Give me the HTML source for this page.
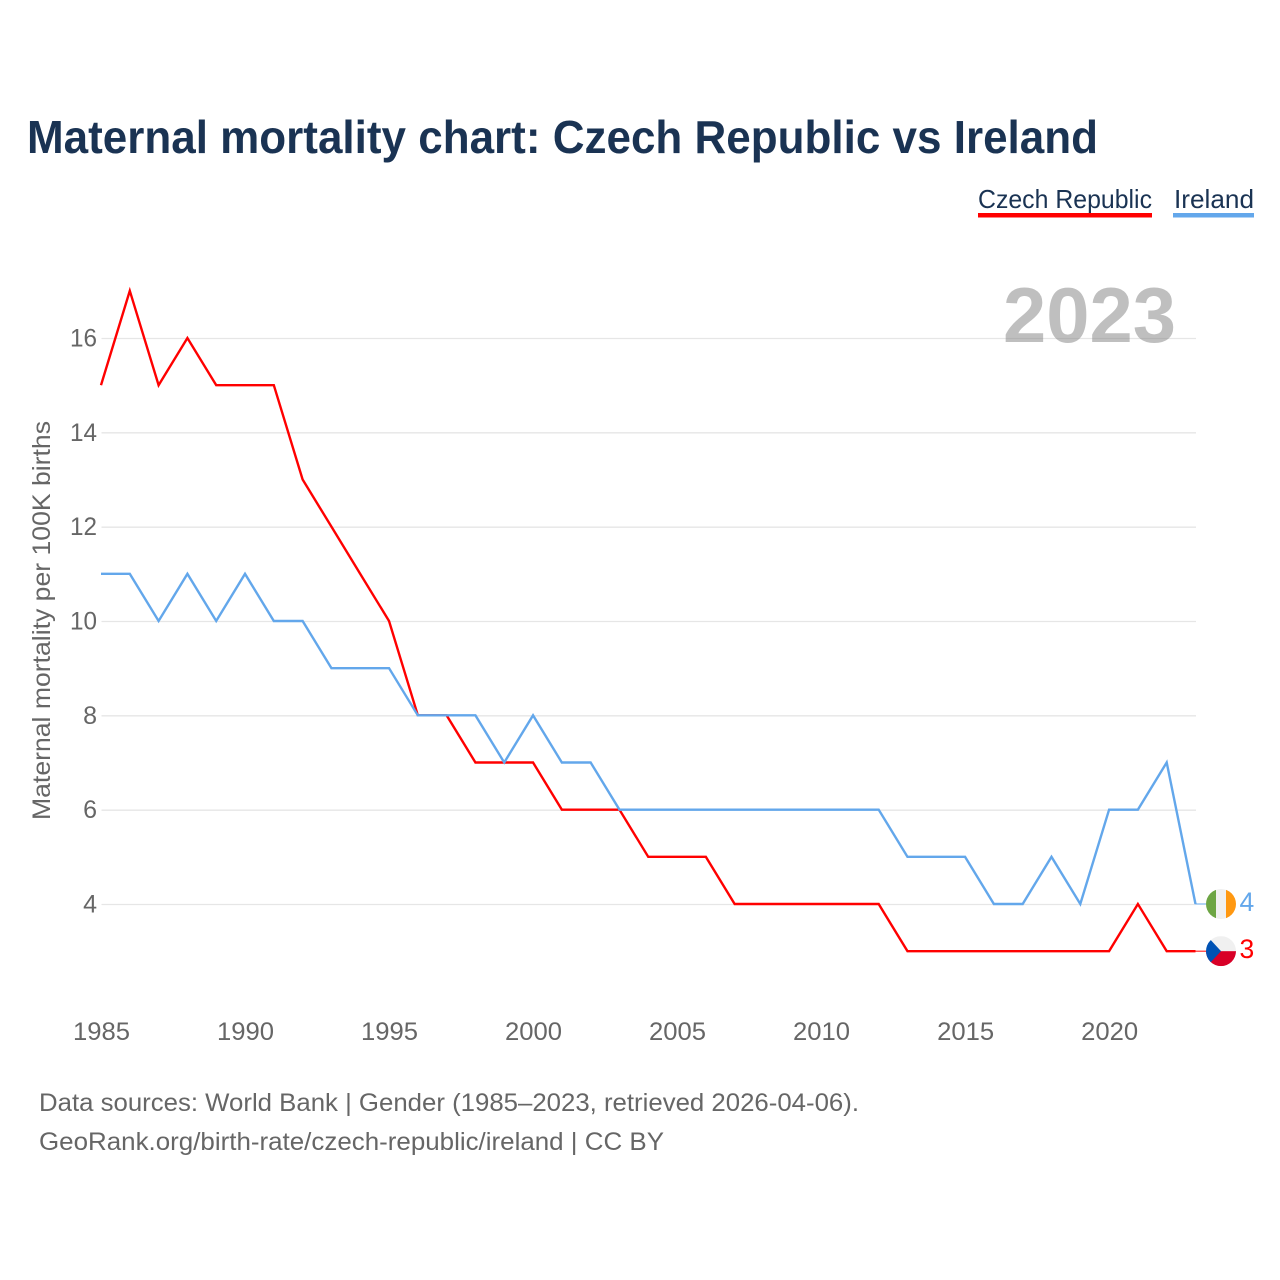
<!DOCTYPE html>
<html lang="en">
<head>
<meta charset="utf-8">
<title>Maternal mortality chart: Czech Republic vs Ireland</title>
<style>
html,body{margin:0;padding:0;background:#fff;width:1280px;height:1280px;overflow:hidden}
svg{display:block}
text{font-family:"Liberation Sans",sans-serif}
</style>
</head>
<body>
<svg id="chart" xmlns="http://www.w3.org/2000/svg" width="1280" height="1280" viewBox="0 0 1280 1280">
  <rect width="1280" height="1280" fill="#ffffff"/>
  <text x="27" y="153" font-size="46" font-weight="700" fill="#1a3353" textLength="1071" lengthAdjust="spacingAndGlyphs">Maternal mortality chart: Czech Republic vs Ireland</text>
  <g id="grid"></g>
  <g id="yticks"></g>
  <g id="xticks"></g>
  <text transform="translate(50,620.5) rotate(-90)" text-anchor="middle" font-size="25" fill="#666666" textLength="399" lengthAdjust="spacingAndGlyphs">Maternal mortality per 100K births</text>
  <text x="1003" y="342" font-size="78" font-weight="700" fill="#808080" fill-opacity="0.5" textLength="173" lengthAdjust="spacingAndGlyphs">2023</text>
  <g id="series"></g>

  <g>
    <text x="978" y="208" font-size="26" fill="#1a3353" textLength="174" lengthAdjust="spacingAndGlyphs">Czech Republic</text>
    <rect x="978" y="213" width="174" height="4.5" fill="#ff0000"/>
  </g>
  <g>
    <text x="1174" y="208" font-size="26" fill="#1a3353" textLength="80" lengthAdjust="spacingAndGlyphs">Ireland</text>
    <rect x="1173" y="213" width="81" height="4.5" fill="#63a7eb"/>
  </g>

  <defs>
    <clipPath id="flag-ie-clip"><circle id="clip-ie" cx="1221" cy="904" r="15"/></clipPath>
    <clipPath id="flag-cz-clip"><circle id="clip-cz" cx="1221" cy="951" r="15"/></clipPath>
  </defs>
  <g id="flag-ie" clip-path="url(#flag-ie-clip)"></g>
  <g id="flag-cz" clip-path="url(#flag-cz-clip)"></g>
  <g id="endvals"></g>

  <text x="39" y="1111" font-size="25" fill="#666666" textLength="820" lengthAdjust="spacingAndGlyphs">Data sources: World Bank | Gender (1985–2023, retrieved 2026-04-06).</text>
  <text x="39" y="1150" font-size="25" fill="#666666" textLength="625" lengthAdjust="spacingAndGlyphs">GeoRank.org/birth-rate/czech-republic/ireland | CC BY</text>
</svg>
<script>
const years = [1985,1986,1987,1988,1989,1990,1991,1992,1993,1994,1995,1996,1997,1998,1999,2000,2001,2002,2003,2004,2005,2006,2007,2008,2009,2010,2011,2012,2013,2014,2015,2016,2017,2018,2019,2020,2021,2022,2023];
const czechValues = [15,17,15,16,15,15,15,13,12,11,10,8,8,7,7,7,6,6,6,5,5,5,4,4,4,4,4,4,3,3,3,3,3,3,3,3,4,3,3];
const irelandValues = [11,11,10,11,10,11,10,10,9,9,9,8,8,8,7,8,7,7,6,6,6,6,6,6,6,6,6,6,5,5,5,4,4,5,4,6,6,7,4];
const yTickValues = [4,6,8,10,12,14,16];
const xTickValues = [1985,1990,1995,2000,2005,2010,2015,2020];

const NS = 'http://www.w3.org/2000/svg';
function xScale(year){ return 101 + (year - 1985) * (1195.5 - 101) / 38; }
function yScale(v){ return 904 - (v - 4) * (904 - 338) / 12; }
function make(tag, attrs, parent, txt){
  const el = document.createElementNS(NS, tag);
  for (const k in attrs) el.setAttribute(k, attrs[k]);
  if (txt !== undefined) el.textContent = txt;
  parent.appendChild(el);
  return el;
}

const grid = document.getElementById('grid');
const yticks = document.getElementById('yticks');
yTickValues.forEach(function(v){
  const line = make('line', {x1:101.5, x2:1196, y1:yScale(v)+0.5, y2:yScale(v)+0.5, stroke:'#e6e6e6', 'stroke-width':1.3}, grid);
  
  
  const label = make('text', {x:97, y:yScale(v)+8.5, 'text-anchor':'end', 'font-size':25, fill:'#666666'}, yticks, String(v));
  if (v >= 10) label.setAttribute('textLength', 27);
  if (v >= 10) label.setAttribute('lengthAdjust', 'spacingAndGlyphs');
  
  
});

const xticks = document.getElementById('xticks');
xTickValues.forEach(function(y){
  const label = make('text', {x:xScale(y)+0.5, y:1040, 'text-anchor':'middle', 'font-size':25, fill:'#666666', textLength:57, lengthAdjust:'spacingAndGlyphs'}, xticks, String(y));
  
  
});

function linePath(values){
  return values.map(function(v,i){ return (i ? 'L' : 'M') + xScale(years[i]).toFixed(2) + ' ' + yScale(v).toFixed(2); }).join(' ');
}
const series = document.getElementById('series');
const czechLine = make('path', {d:linePath(czechValues), fill:'none', stroke:'#ff0000', 'stroke-width':2.4, 'stroke-linejoin':'miter'}, series);


const irelandLine = make('path', {d:linePath(irelandValues), fill:'none', stroke:'#63a7eb', 'stroke-width':2.4, 'stroke-linejoin':'miter'}, series);



const lastCz = czechValues[czechValues.length-1];
const lastIe = irelandValues[irelandValues.length-1];
const cyIe = yScale(lastIe);
const cyCz = yScale(lastCz);
document.getElementById('clip-ie').setAttribute('cy', cyIe);
document.getElementById('clip-cz').setAttribute('cy', cyCz);

const connIe = make('line', {x1:1195.5, x2:1206, y1:cyIe, y2:cyIe, stroke:'#63a7eb', 'stroke-width':1}, series);


const connCz = make('line', {x1:1195.5, x2:1206, y1:cyCz, y2:cyCz, stroke:'#ff0000', 'stroke-width':1}, series);



const ie = document.getElementById('flag-ie');
make('rect', {x:1206, y:cyIe-15, width:10, height:30, fill:'#6da544'}, ie);
make('rect', {x:1216, y:cyIe-15, width:10, height:30, fill:'#f0f0f0'}, ie);
make('rect', {x:1226, y:cyIe-15, width:10, height:30, fill:'#ff9811'}, ie);

const cz = document.getElementById('flag-cz');
make('rect', {x:1206, y:cyCz-15, width:30, height:15, fill:'#f0f0f0'}, cz);
make('rect', {x:1206, y:cyCz, width:30, height:15, fill:'#d80027'}, cz);
make('polygon', {points:'1206,'+(cyCz-15)+' 1209,'+(cyCz-13)+' 1221,'+cyCz+' 1209,'+(cyCz+13)+' 1206,'+(cyCz+15), fill:'#0052b4'}, cz);

const endvals = document.getElementById('endvals');
const valIe = make('text', {x:1239.5, y:cyIe+7, 'font-size':26.5, fill:'#63a7eb'}, endvals, String(lastIe));


const valCz = make('text', {x:1239.5, y:cyCz+7, 'font-size':26.5, fill:'#ff0000'}, endvals, String(lastCz));


</script>
</body>
</html>
